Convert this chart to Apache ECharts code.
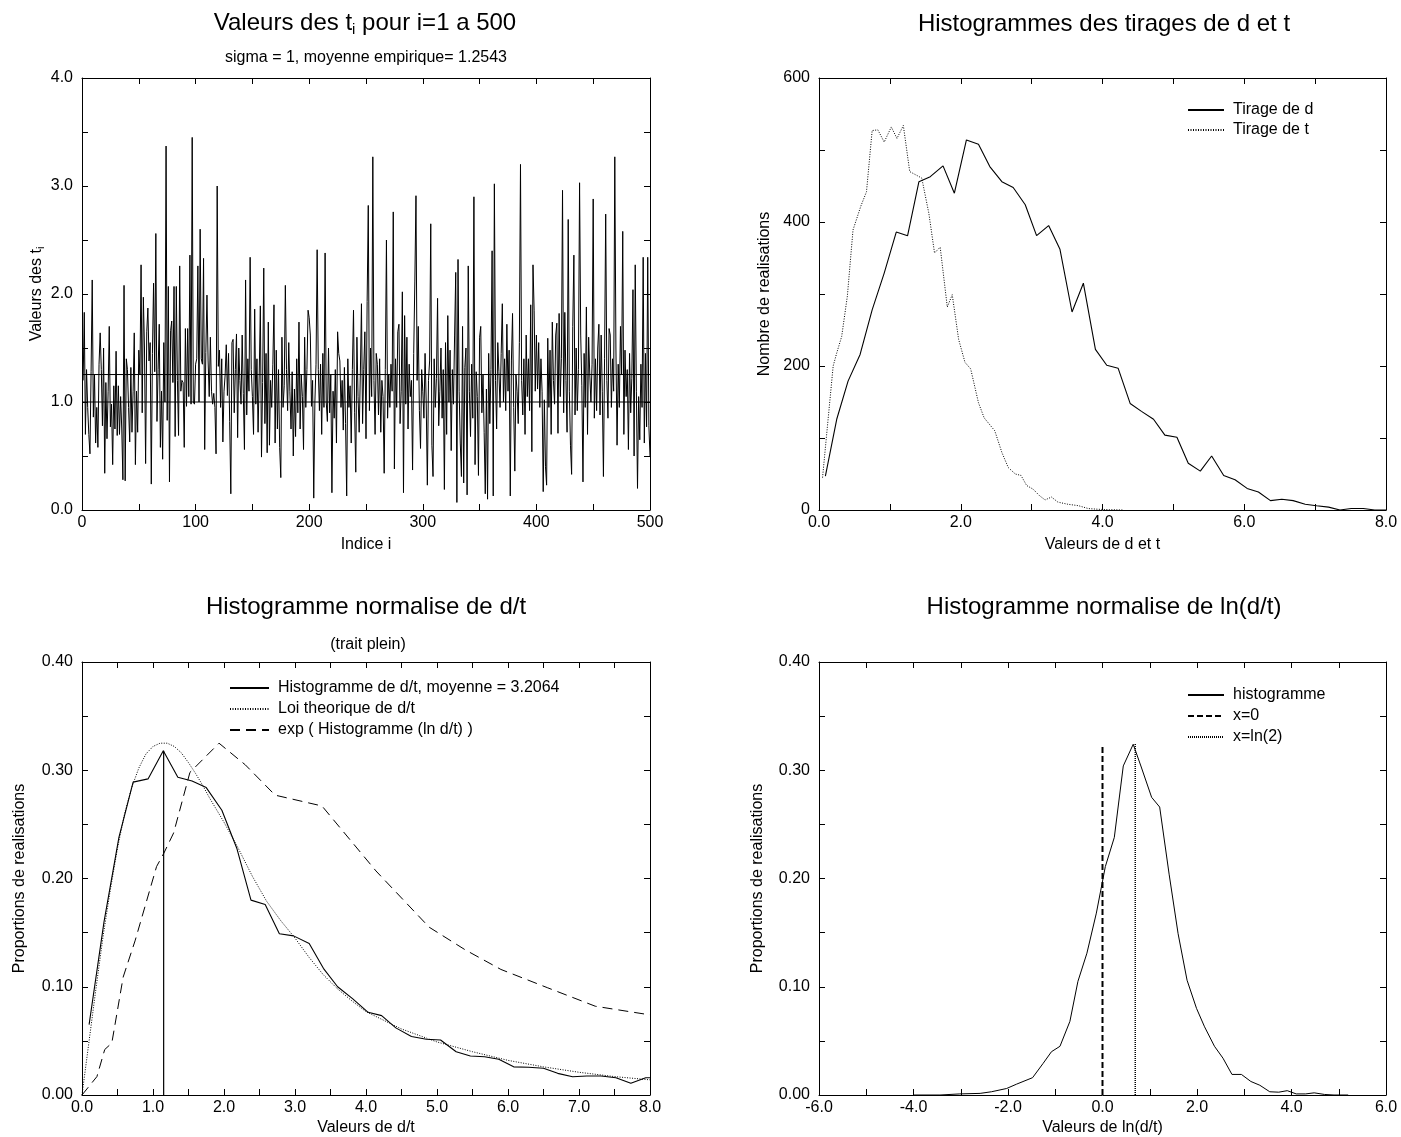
<!DOCTYPE html>
<html><head><meta charset="utf-8">
<script src="https://cdn.jsdelivr.net/npm/echarts@6/dist/echarts.min.js"></script>
<style>html,body{margin:0;padding:0;background:#fff}#c{width:1401px;height:1137px}</style>
</head><body><div id="c"></div>
<script>
// ---------- Panel 1 : t_i for i = 1..500 ----------
const tValues = [
1.20,1.83,0.70,1.30,0.95,0.70,0.52,1.28,2.13,0.86,
1.25,0.62,0.95,0.58,1.35,1.64,1.30,0.78,1.50,0.34,
1.18,0.66,1.10,1.70,0.77,0.98,0.42,1.15,0.75,1.47,
0.69,1.15,0.70,1.05,0.75,0.28,2.08,0.27,1.40,1.30,
0.95,0.63,1.32,0.72,1.10,1.64,0.42,1.10,0.72,1.48,
1.25,2.27,0.90,1.97,1.50,0.43,1.65,1.87,1.38,1.55,
0.24,1.45,2.10,1.28,2.56,0.82,1.30,1.72,0.58,1.10,
0.47,1.55,1.00,3.37,0.83,2.07,0.26,1.66,1.75,1.18,
2.07,0.68,2.07,1.20,0.69,2.26,1.10,1.20,1.18,0.58,
1.68,0.96,1.68,1.05,2.36,0.98,3.45,1.00,0.98,1.35,
1.40,2.26,1.00,2.60,1.40,1.35,2.33,0.56,1.46,1.99,
1.38,1.05,1.60,1.10,0.98,1.08,0.95,0.52,3.00,1.33,
1.48,0.95,1.40,0.63,1.10,1.25,1.53,1.06,1.45,0.82,
0.15,1.55,1.58,0.90,1.30,1.63,0.67,1.50,1.20,0.98,
1.62,1.08,0.56,2.13,0.88,1.40,1.10,2.34,1.30,1.05,
0.70,1.86,0.98,1.40,0.72,1.25,1.89,0.49,1.18,2.24,
0.80,1.45,0.53,1.74,0.60,1.20,0.95,1.35,1.90,0.62,
1.48,0.75,1.30,0.58,0.30,1.60,0.95,1.15,2.08,1.30,
0.92,1.55,1.10,0.75,1.28,0.50,1.12,0.68,1.40,0.90,
1.74,0.75,1.25,1.05,0.56,1.60,0.95,1.30,1.85,1.78,
1.62,0.96,1.20,0.11,1.00,1.35,2.41,1.30,0.92,1.35,
0.70,1.45,0.95,2.38,1.00,0.82,1.50,0.90,1.25,0.16,
1.10,0.85,1.30,0.62,1.65,1.45,1.38,0.95,1.20,0.74,
1.32,0.80,0.13,1.40,0.95,1.15,0.62,1.30,1.85,0.90,
0.35,1.60,1.05,0.72,1.25,1.91,0.80,1.30,1.65,0.66,
1.93,2.82,0.92,1.50,1.05,3.27,1.20,0.70,1.45,1.35,
0.88,1.40,0.72,1.20,1.05,0.34,1.30,2.50,0.85,1.25,
0.95,1.35,1.10,2.76,0.38,1.40,0.95,1.65,1.72,0.80,
1.10,2.02,0.16,1.80,0.98,1.60,0.75,1.35,1.05,1.20,
0.37,1.45,2.12,2.91,1.20,1.70,0.92,0.57,1.30,1.10,
0.85,1.45,1.00,0.23,1.20,1.38,2.65,0.60,0.31,1.40,
0.95,1.22,1.96,0.78,1.10,1.50,0.85,1.30,0.19,1.55,
0.70,1.80,1.00,1.48,0.55,1.30,0.98,1.62,2.20,0.07,
2.32,1.10,0.62,0.31,1.70,0.25,1.32,1.50,0.14,2.26,
1.10,0.68,1.35,0.85,2.90,0.42,1.28,1.05,0.32,1.60,
1.70,0.90,1.25,0.72,0.15,1.12,0.10,1.45,0.80,1.30,
2.40,0.13,3.02,1.20,0.75,1.55,1.28,0.95,1.45,1.91,
1.00,1.40,0.92,1.72,1.10,1.48,0.13,1.38,1.82,0.95,
0.36,1.25,1.10,0.80,1.55,3.20,1.20,0.88,1.40,0.70,
1.62,1.05,1.40,0.92,1.90,0.54,2.27,1.85,1.10,1.62,
1.12,1.55,0.95,1.40,1.10,0.17,1.02,0.40,0.23,1.59,
0.95,1.48,0.70,1.74,1.20,0.98,1.62,1.73,0.71,1.82,
1.05,1.40,2.96,0.90,1.83,1.20,0.72,2.69,1.10,0.60,
0.33,1.70,2.36,0.88,1.50,0.92,1.30,3.03,1.62,1.15,
0.26,1.45,0.95,1.88,0.70,1.60,1.25,1.00,1.35,2.88,
0.85,1.40,0.92,1.50,1.72,0.88,1.62,1.10,0.31,1.40,
2.74,1.20,0.85,1.68,1.62,0.95,1.40,1.10,3.27,1.50,
0.60,1.35,0.95,1.70,1.25,2.58,0.70,1.48,1.05,1.30,
0.56,1.45,0.90,1.22,2.04,0.50,2.27,1.10,0.20,1.05,
0.65,1.35,0.95,2.34,0.62,1.45,0.77,2.34,0.78,0.50
];
const sigmaValue = 1.0;
const empiricalMean = 1.2543;
const indexRange = [0, 500];

// ---------- Panel 2 : histograms of d and t ----------
const dBinX = [0.09,0.25,0.41,0.58,0.75,0.92,1.09,1.25,1.41,1.57,1.75,1.91,2.08,2.25,2.41,2.58,2.74,2.91,3.07,3.24,3.40,3.57,3.73,3.90,4.06,4.22,4.39,4.55,4.72,4.88,5.05,5.21,5.38,5.54,5.71,5.87,6.04,6.20,6.37,6.53,6.69,6.86,7.02,7.19,7.35,7.51,7.68,7.84,8.00];
const dCounts = [47,126,179,216,278,329,386,381,456,463,478,440,514,508,477,456,448,424,381,395,362,275,315,223,201,197,148,137,126,104,101,65,54,75,48,42,30,25,13,15,13,8,6,4,0,2,2,0,0];
const tBinX = [0.05,0.20,0.25,0.32,0.40,0.48,0.59,0.67,0.75,0.83,0.92,1.02,1.10,1.19,1.28,1.45,1.55,1.63,1.71,1.81,1.88,1.97,2.06,2.14,2.25,2.33,2.48,2.58,2.67,2.77,2.85,2.93,3.02,3.11,3.19,3.28,3.37,3.51,3.66,3.80,3.94,4.10,4.30];
const tCounts = [45,200,218,241,297,389,422,442,527,528,511,532,516,534,470,461,412,357,365,282,299,237,205,196,149,128,110,80,59,50,48,34,29,20,14,18,11,8,6,2,1,0.5,0];

// ---------- Panel 3 : normalised histogram of d/t ----------
const ratioX = [0.10,0.31,0.52,0.72,0.93,1.145,1.35,1.55,1.75,1.97,2.18,2.38,2.58,2.78,2.98,3.20,3.40,3.60,3.81,4.03,4.22,4.42,4.64,4.85,5.05,5.27,5.47,5.67,5.87,6.08,6.29,6.50,6.70,6.91,7.11,7.31,7.52,7.73,7.94,8.00];
const ratioHist = [0.065,0.160,0.238,0.289,0.292,0.318,0.2935,0.290,0.284,0.263,0.228,0.180,0.176,0.149,0.147,0.140,0.117,0.100,0.089,0.0764,0.0733,0.062,0.054,0.0515,0.0508,0.040,0.036,0.0354,0.033,0.026,0.0256,0.0247,0.020,0.0169,0.0176,0.0176,0.016,0.0108,0.016,0.016];
const theoX = [0,0.1,0.2,0.3,0.4,0.5,0.6,0.7,0.8,0.9,1.0,1.1,1.2,1.3,1.4,1.5,1.6,1.7,1.8,1.9,2.0,2.2,2.4,2.6,2.8,3.0,3.2,3.4,3.6,3.8,4.0,4.5,5.0,5.5,6.0,6.5,7.0,7.5,8.0];
const theoY = [0,0.050,0.100,0.148,0.190,0.228,0.260,0.284,0.302,0.315,0.322,0.325,0.325,0.322,0.316,0.307,0.297,0.286,0.274,0.263,0.252,0.228,0.202,0.179,0.161,0.145,0.127,0.111,0.098,0.087,0.077,0.061,0.049,0.040,0.032,0.026,0.021,0.017,0.014];
const expLnX = [0,0.21,0.32,0.42,0.58,0.75,1.05,1.15,1.29,1.52,1.93,2.30,2.72,3.38,4.14,4.89,5.40,5.90,6.56,7.23,8.00];
const expLnY = [0,0.017,0.042,0.048,0.109,0.143,0.211,0.223,0.242,0.298,0.325,0.305,0.277,0.267,0.207,0.155,0.134,0.116,0.099,0.082,0.074];
const modeX = 1.15, modeTop = 0.318;

// ---------- Panel 4 : normalised histogram of ln(d/t) ----------
const lnX = [-4.00,-3.44,-3.02,-2.59,-2.35,-2.03,-1.82,-1.48,-1.26,-1.08,-0.90,-0.69,-0.52,-0.33,-0.13,0.06,0.25,0.44,0.65,0.82,1.04,1.21,1.41,1.60,1.79,1.99,2.16,2.37,2.55,2.74,2.94,3.14,3.33,3.54,3.73,3.91,4.10,4.30,4.48,4.70,4.90,5.20];
const lnHist = [0,0,0.001,0.0015,0.003,0.006,0.010,0.016,0.029,0.040,0.045,0.068,0.105,0.131,0.168,0.211,0.238,0.304,0.324,0.303,0.275,0.266,0.204,0.149,0.106,0.080,0.063,0.045,0.034,0.019,0.019,0.0125,0.009,0.003,0.0026,0.004,0.001,0.001,0.002,0.0005,0,0];
const zeroLineX = 0, zeroLineTop = 0.322;
const ln2LineX = 0.693, ln2LineTop = 0.325;

// ---------- helpers ----------
const FONT = 'Liberation Sans, Arial, Helvetica, sans-serif';
const zip = (xs, ys) => xs.map((x, i) => [x, ys[i]]);
const isMult = (v, s) => Math.abs(v / s - Math.round(v / s)) < 1e-6;

const grids = [
  {left: 82, top: 78, width: 568, height: 432},
  {left: 819, top: 78, width: 567, height: 432},
  {left: 82, top: 662, width: 568, height: 433},
  {left: 819, top: 662, width: 567, height: 433}
];

function axisCommon() {
  return {
    axisLine: {show: true, onZero: false, lineStyle: {color: '#000', width: 1}},
    axisTick: {show: true, inside: true, length: 6, lineStyle: {color: '#000', width: 1}},
    splitLine: {show: false},
    minorTick: {show: false}
  };
}
function mkX(gi, min, max, interval, labelStep, dec, name, nameGap, pos) {
  const a = Object.assign(axisCommon(), {
    type: 'value', gridIndex: gi, min, max, interval, position: pos || 'bottom'
  });
  if (pos === 'top') {
    a.axisLabel = {show: false};
  } else {
    a.axisLabel = {show: true, margin: 5, color: '#000', fontSize: 16, fontFamily: FONT,
      formatter: v => isMult(v, labelStep) ? v.toFixed(dec) : ''};
    a.name = name; a.nameLocation = 'middle'; a.nameGap = nameGap;
    a.nameTextStyle = {color: '#000', fontSize: 16, fontFamily: FONT};
  }
  return a;
}
function mkY(gi, min, max, interval, labelStep, dec, name, nameGap, pos, rich) {
  const a = Object.assign(axisCommon(), {
    type: 'value', gridIndex: gi, min, max, interval, position: pos || 'left'
  });
  if (pos === 'right') {
    a.axisLabel = {show: false};
  } else {
    a.axisLabel = {show: true, margin: 9, color: '#000', fontSize: 16, fontFamily: FONT,
      formatter: v => isMult(v, labelStep) ? v.toFixed(dec) : ''};
    a.name = name; a.nameLocation = 'middle'; a.nameGap = nameGap;
    a.nameTextStyle = {color: '#000', fontSize: 16, fontFamily: FONT};
    if (rich) a.nameTextStyle.rich = rich;
  }
  return a;
}

const subRichName = {sub: {fontSize: 11, fontFamily: FONT, color: '#000', padding: [9, 0, 0, 0], verticalAlign: 'bottom'}};

const xAxes = [
  mkX(0, 0, 500, 50, 100, 0, 'Indice i', 27),
  mkX(1, 0, 8, 1, 2, 1, 'Valeurs de d et t', 27),
  mkX(2, 0, 8, 0.5, 1, 1, 'Valeurs de d/t', 25),
  mkX(3, -6, 6, 1, 2, 1, 'Valeurs de ln(d/t)', 25),
  mkX(0, 0, 500, 50, 100, 0, '', 0, 'top'),
  mkX(1, 0, 8, 1, 2, 1, '', 0, 'top'),
  mkX(2, 0, 8, 0.5, 1, 1, '', 0, 'top'),
  mkX(3, -6, 6, 1, 2, 1, '', 0, 'top')
];
const yAxes = [
  mkY(0, 0, 4, 0.5, 1, 1, 'Valeurs des t{sub|i}', 32, 'left', subRichName),
  mkY(1, 0, 600, 100, 200, 0, 'Nombre de realisations', 46),
  mkY(2, 0, 0.4, 0.05, 0.1, 2, 'Proportions de realisations', 54),
  mkY(3, 0, 0.4, 0.05, 0.1, 2, 'Proportions de realisations', 53),
  mkY(0, 0, 4, 0.5, 1, 1, '', 0, 'right'),
  mkY(1, 0, 600, 100, 200, 0, '', 0, 'right'),
  mkY(2, 0, 0.4, 0.05, 0.1, 2, '', 0, 'right'),
  mkY(3, 0, 0.4, 0.05, 0.1, 2, '', 0, 'right')
];

function line(name, gi, data, width, type) {
  return {
    name, type: 'line', xAxisIndex: gi, yAxisIndex: gi, data,
    symbol: 'none', showSymbol: false, smooth: false, silent: true,
    lineStyle: {color: '#000', width: width || 1, type: type || 'solid'},
    itemStyle: {color: '#000'},
    emphasis: {disabled: true}
  };
}

const series = [
  line('t_i', 0, tValues.map((v, i) => [i + 1, v]), 1),
  line('mean', 0, [[indexRange[0], empiricalMean], [indexRange[1], empiricalMean]], 1),
  line('sigma', 0, [[indexRange[0], sigmaValue], [indexRange[1], sigmaValue]], 1),
  line('Tirage de d', 1, zip(dBinX, dCounts), 1.1),
  line('Tirage de t', 1, zip(tBinX, tCounts), 1, [1, 1.5]),
  line('Histogramme de d/t, moyenne = 3.2064', 2, zip(ratioX, ratioHist), 1.1),
  line('Loi theorique de d/t', 2, zip(theoX, theoY), 1, [1, 1.5]),
  line('exp ( Histogramme (ln d/t) )', 2, zip(expLnX, expLnY), 1, [10, 6]),
  line('mode', 2, [[modeX, 0], [modeX, modeTop]], 1.2),
  line('histogramme', 3, zip(lnX, lnHist), 1),
  line('x=0', 3, [[zeroLineX, 0], [zeroLineX, zeroLineTop]], 2, [6, 3]),
  line('x=ln(2)', 3, [[ln2LineX, 0], [ln2LineX, ln2LineTop]], 1.5, [1, 1])
];

function legend(names, left, top, itemWidth, gap) {
  return {
    data: names, left, top, orient: 'vertical', itemWidth, itemHeight: 12, itemGap: gap,
    selectedMode: false, padding: 0,
    itemStyle: {opacity: 0, borderWidth: 0},
    textStyle: {color: '#000', fontSize: 16, fontFamily: FONT, padding: [0, 0, 0, 4]}
  };
}

const titleStyle = {color: '#000', fontSize: 24, fontWeight: 'normal', fontFamily: FONT};
const subStyle = {color: '#000', fontSize: 16, fontWeight: 'normal', fontFamily: FONT};

const option = {
  animation: false,
  backgroundColor: '#fff',
  textStyle: {fontFamily: FONT},
  title: [
    {text: 'Valeurs des t{sub|i} pour i=1 a 500', left: 365, top: 10, textAlign: 'center', padding: 0,
      textStyle: Object.assign({}, titleStyle, {rich: {sub: {fontSize: 15, fontFamily: FONT, color: '#000', padding: [12, 0, 0, 0], verticalAlign: 'bottom'}}})},
    {text: 'sigma = 1, moyenne empirique= 1.2543', left: 366, top: 50, textAlign: 'center', padding: 0, textStyle: subStyle},
    {text: 'Histogrammes des tirages de d et t', left: 1104, top: 12, textAlign: 'center', padding: 0, textStyle: titleStyle},
    {text: 'Histogramme normalise de d/t', left: 366, top: 595, textAlign: 'center', padding: 0, textStyle: titleStyle},
    {text: '(trait plein)', left: 368, top: 637, textAlign: 'center', padding: 0, textStyle: subStyle},
    {text: 'Histogramme normalise de ln(d/t)', left: 1104, top: 595, textAlign: 'center', padding: 0, textStyle: titleStyle}
  ],
  legend: [
    legend(['Tirage de d', 'Tirage de t'], 1187, 102, 36, 4),
    legend(['Histogramme de d/t, moyenne = 3.2064', 'Loi theorique de d/t', 'exp ( Histogramme (ln d/t) )'], 229, 680, 39, 5),
    legend(['histogramme', 'x=0', 'x=ln(2)'], 1187, 687, 36, 5)
  ],
  grid: grids,
  xAxis: xAxes,
  yAxis: yAxes,
  series
};

const chart = echarts.init(document.getElementById('c'), null, {renderer: 'canvas'});
chart.setOption(option);
</script>
</body></html>
